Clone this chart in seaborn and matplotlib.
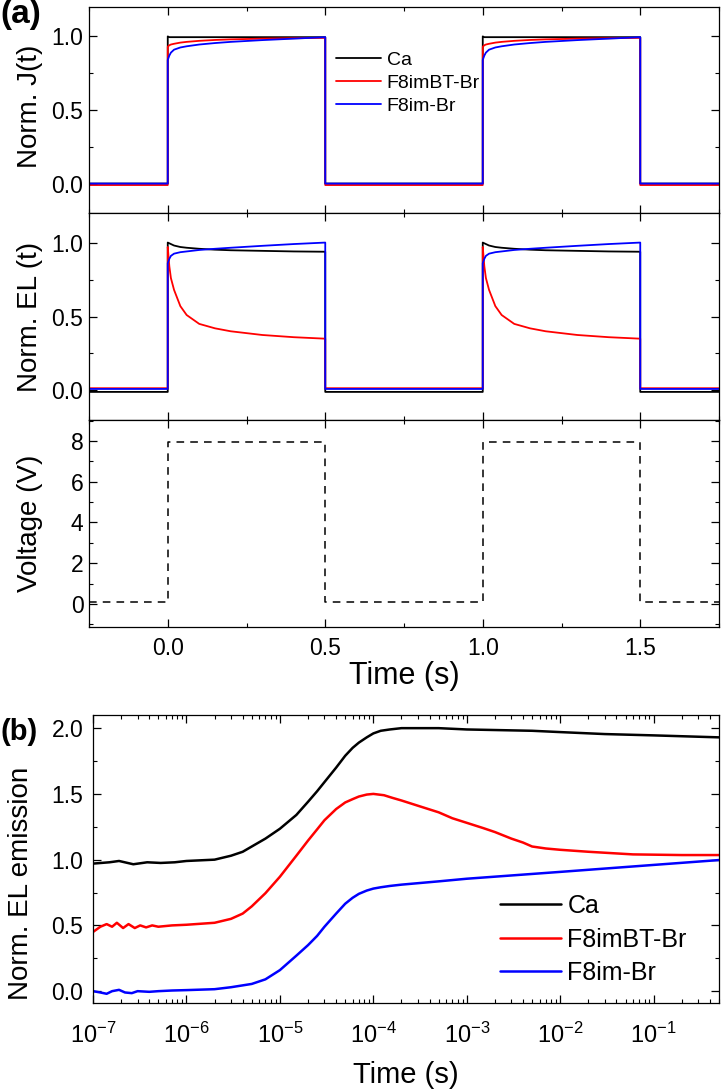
import matplotlib
matplotlib.use("Agg")
import matplotlib.pyplot as plt
import seaborn as sns
import pandas as pd
from matplotlib.ticker import MultipleLocator, FixedLocator, LogFormatterSciNotation, NullFormatter

# ---------------- data ----------------
series = ["Ca", "F8imBT-Br", "F8im-Br"]
colors = ["#000000", "#ff0000", "#0000ff"]

# panel (a): pulsed operation, time in s
t_pulse = [-0.25, 0.0, 0.0, 0.005, 0.01, 0.02, 0.04, 0.06, 0.1, 0.15, 0.2, 0.3, 0.4, 0.5,
           0.5, 1.0, 1.0, 1.005, 1.01, 1.02, 1.04, 1.06, 1.1, 1.15, 1.2, 1.3, 1.4, 1.5,
           1.5, 1.75]

J_ca = [0.0, 0.0, 1.0, 0.995, 0.995, 0.995, 0.995, 0.995, 0.995, 0.995, 0.995, 0.995, 0.995, 0.995,
        0.0, 0.0, 1.0, 0.995, 0.995, 0.995, 0.995, 0.995, 0.995, 0.995, 0.995, 0.995, 0.995, 0.995,
        0.0, 0.0]
J_red = [-0.01, -0.01, 0.93, 0.94, 0.945, 0.95, 0.958, 0.963, 0.97, 0.976, 0.98, 0.985, 0.988, 0.99,
         -0.01, -0.01, 0.93, 0.94, 0.945, 0.95, 0.958, 0.963, 0.97, 0.976, 0.98, 0.985, 0.988, 0.99,
         -0.01, -0.01]
J_blue = [0.0, 0.0, 0.84, 0.87, 0.89, 0.91, 0.925, 0.933, 0.945, 0.955, 0.963, 0.975, 0.985, 0.995,
          0.0, 0.0, 0.84, 0.87, 0.89, 0.91, 0.925, 0.933, 0.945, 0.955, 0.963, 0.975, 0.985, 0.995,
          0.0, 0.0]

EL_ca = [-0.01, -0.01, 1.0, 0.995, 0.99, 0.98, 0.97, 0.965, 0.958, 0.952, 0.948, 0.944, 0.94, 0.938,
         -0.01, -0.01, 1.0, 0.995, 0.99, 0.98, 0.97, 0.965, 0.958, 0.952, 0.948, 0.944, 0.94, 0.938,
         -0.01, -0.01]
EL_red = [0.015, 0.015, 0.97, 0.84, 0.76, 0.68, 0.57, 0.51, 0.45, 0.42, 0.40, 0.375, 0.36, 0.35,
          0.015, 0.015, 0.97, 0.84, 0.76, 0.68, 0.57, 0.51, 0.45, 0.42, 0.40, 0.375, 0.36, 0.35,
          0.015, 0.015]
EL_blue = [0.01, 0.01, 0.86, 0.89, 0.91, 0.925, 0.935, 0.94, 0.95, 0.958, 0.965, 0.978, 0.99, 1.0,
           0.01, 0.01, 0.86, 0.89, 0.91, 0.925, 0.935, 0.94, 0.95, 0.958, 0.965, 0.978, 0.99, 1.0,
           0.01, 0.01]

t_volt = [-0.25, 0.0, 0.0, 0.5, 0.5, 1.0, 1.0, 1.5, 1.5, 1.75]
volt = [0.1, 0.1, 7.95, 7.95, 0.1, 0.1, 7.95, 7.95, 0.1, 0.1]

# panel (b): transient EL on log time axis
log_ticks = [1e-7, 1e-6, 1e-5, 1e-4, 1e-3, 1e-2, 1e-1]

t_ca = [1e-7, 1.5e-7, 1.9e-7, 2.7e-7, 3.8e-7, 5.3e-7, 7.5e-7, 1e-6, 2e-6, 3e-6, 4e-6, 5e-6, 7e-6,
        1e-5, 1.5e-5, 2e-5, 2.5e-5, 3e-5, 4e-5, 5e-5, 6e-5, 7e-5, 8.5e-5, 1e-4, 1.2e-4, 1.5e-4,
        2e-4, 3e-4, 5e-4, 1e-3, 5e-3, 1e-2, 3e-2, 0.1, 0.5]
el_ca = [0.97, 0.98, 0.99, 0.965, 0.98, 0.975, 0.98, 0.99, 1.0, 1.03, 1.06, 1.10, 1.16,
         1.235, 1.34, 1.44, 1.52, 1.59, 1.70, 1.79, 1.85, 1.89, 1.93, 1.96, 1.98, 1.99,
         2.0, 2.0, 2.0, 1.99, 1.98, 1.97, 1.955, 1.945, 1.93]

t_red = [1e-7, 1.2e-7, 1.4e-7, 1.6e-7, 1.8e-7, 2.1e-7, 2.4e-7, 2.8e-7, 3.2e-7, 3.7e-7, 4.3e-7,
         5e-7, 7e-7, 1e-6, 2e-6, 3e-6, 4e-6, 5e-6, 7e-6, 1e-5, 1.5e-5, 2e-5, 2.5e-5, 3e-5, 4e-5,
         5e-5, 6e-5, 7e-5, 8.5e-5, 1e-4, 1.3e-4, 1.6e-4, 2e-4, 3e-4, 5e-4, 7e-4, 1e-3, 1.5e-3,
         2e-3, 3e-3, 4e-3, 5e-3, 7e-3, 1e-2, 2e-2, 6e-2, 0.2, 0.5]
el_red = [0.45, 0.49, 0.51, 0.49, 0.52, 0.48, 0.51, 0.48, 0.50, 0.485, 0.50,
          0.49, 0.50, 0.505, 0.52, 0.55, 0.59, 0.645, 0.745, 0.87, 1.03, 1.145, 1.23, 1.30, 1.385,
          1.435, 1.46, 1.48, 1.495, 1.50, 1.49, 1.47, 1.45, 1.41, 1.36, 1.315, 1.28, 1.24,
          1.21, 1.16, 1.13, 1.10, 1.085, 1.075, 1.06, 1.04, 1.035, 1.035]

t_blue = [1e-7, 1.2e-7, 1.4e-7, 1.6e-7, 1.9e-7, 2.2e-7, 2.6e-7, 3e-7, 4e-7, 5e-7, 7e-7, 1e-6,
          2e-6, 3e-6, 5e-6, 7e-6, 1e-5, 1.5e-5, 2e-5, 2.5e-5, 3e-5, 4e-5, 5e-5, 6e-5, 7e-5,
          8.5e-5, 1e-4, 1.2e-4, 1.5e-4, 2e-4, 5e-4, 1e-3, 1e-2, 0.1, 0.5]
el_blue = [0.0, -0.01, -0.02, 0.0, 0.01, -0.01, -0.015, 0.0, -0.005, 0.0, 0.005, 0.008,
           0.015, 0.03, 0.055, 0.09, 0.16, 0.27, 0.35, 0.42, 0.49, 0.59, 0.665, 0.71, 0.74,
           0.765, 0.78, 0.79, 0.80, 0.81, 0.835, 0.855, 0.907, 0.96, 0.997]

# ---------------- style ----------------
sns.set_theme(style="ticks")
plt.rcParams.update({
    "font.family": ["Liberation Sans", "DejaVu Sans"],
    "mathtext.fontset": "custom",
    "mathtext.rm": "Liberation Sans",
    "mathtext.it": "Liberation Sans:italic",
    "mathtext.bf": "Liberation Sans:bold",
    "mathtext.default": "regular",
    "xtick.direction": "in", "ytick.direction": "in",
    "xtick.top": True, "ytick.right": True,
    "xtick.major.size": 6, "ytick.major.size": 6,
    "xtick.minor.size": 3, "ytick.minor.size": 3,
    "xtick.major.width": 0.9, "ytick.major.width": 0.9,
    "xtick.minor.width": 0.8, "ytick.minor.width": 0.8,
    "axes.linewidth": 0.9,
    "axes.edgecolor": "black",
    "xtick.color": "black", "ytick.color": "black",
    "text.color": "black", "axes.labelcolor": "black",
})

W, H = 722, 1091
fig = plt.figure(figsize=(W / 100, H / 100), dpi=100)

def ax_px(left, top, right, bottom):
    return fig.add_axes([left / W, 1 - bottom / H, (right - left) / W, (bottom - top) / H])

ax1 = ax_px(89, 7, 719, 213)
ax2 = ax_px(89, 213, 719, 420)
ax3 = ax_px(89, 420, 719, 627)
axb = ax_px(93, 715, 719, 1003)

TICK = 16.5
YLAB = 20
XLAB = 22
lw_a = 1.3

def line(ax, x, y, color, label=None, lw=1.3, ls="-"):
    df = pd.DataFrame({"x": x, "y": y})
    sns.lineplot(data=df, x="x", y="y", ax=ax, color=color, estimator=None, sort=False,
                 linewidth=lw, linestyle=ls, label=label, legend=False)

for ys, c, s in zip([J_ca, J_red, J_blue], colors, series):
    line(ax1, t_pulse, ys, c, label=s, lw=lw_a)
for ys, c in zip([EL_ca, EL_red, EL_blue], colors):
    line(ax2, t_pulse, ys, c, lw=lw_a)
line(ax3, t_volt, volt, "black", lw=1.1, ls=(0, (5, 4)))

for ax in (ax1, ax2, ax3):
    ax.set_xlim(-0.25, 1.75)
    ax.xaxis.set_major_locator(MultipleLocator(0.5))
    ax.xaxis.set_minor_locator(MultipleLocator(0.25))
    ax.tick_params(axis="both", which="major", labelsize=TICK, pad=4)
    ax.set_xlabel("")
for ax in (ax1, ax2):
    ax.set_ylim(-0.2, 1.2)
    ax.yaxis.set_major_locator(MultipleLocator(0.5))
    ax.yaxis.set_minor_locator(MultipleLocator(0.25))
    ax.tick_params(axis="x", labelbottom=False)
ax3.set_ylim(-1.13, 9.03)
ax3.yaxis.set_major_locator(MultipleLocator(2))
ax3.yaxis.set_minor_locator(MultipleLocator(1))
ax3.tick_params(axis="x", pad=7)

ax1.set_ylabel("Norm. J(t)", fontsize=YLAB)
ax2.set_ylabel("Norm. EL (t)", fontsize=YLAB)
ax3.set_ylabel("Voltage (V)", fontsize=YLAB)
ax1.yaxis.set_label_coords(-0.073, 0.52)
ax2.yaxis.set_label_coords(-0.073, 0.5)
ax3.yaxis.set_label_coords(-0.073, 0.5)
ax3.set_xlabel("Time (s)", fontsize=XLAB)
ax3.xaxis.set_label_coords(0.5, -0.163)

ax1.legend(loc="upper left", bbox_to_anchor=(0.392, 0.785), frameon=False, fontsize=14,
           handlelength=2.3, handletextpad=0.3, labelspacing=0.28, borderpad=0, borderaxespad=0)

# panel (b)
for x, y, c, s in zip([t_ca, t_red, t_blue], [el_ca, el_red, el_blue], colors, series):
    line(axb, x, y, c, label=s, lw=1.8)
axb.set_xscale("log")
axb.set_xlim(1e-7, 0.5)
axb.set_ylim(-0.09, 2.1)
axb.yaxis.set_major_locator(MultipleLocator(0.5))
axb.yaxis.set_minor_locator(MultipleLocator(0.25))
axb.xaxis.set_major_locator(FixedLocator(log_ticks))
axb.xaxis.set_major_formatter(LogFormatterSciNotation())
minor = [m * d for d in log_ticks for m in range(2, 10) if m * d <= 0.5]
axb.xaxis.set_minor_locator(FixedLocator(minor))
axb.xaxis.set_minor_formatter(NullFormatter())
axb.tick_params(axis="both", which="major", labelsize=TICK, pad=7)
axb.tick_params(axis="x", which="major", labelsize=17, pad=14)
axb.set_ylabel("Norm. EL emission", fontsize=YLAB)
axb.yaxis.set_label_coords(-0.094, 0.417)
axb.set_xlabel("Time (s)", fontsize=21)
axb.xaxis.set_label_coords(0.5, -0.2)
axb.legend(loc="upper left", bbox_to_anchor=(0.65, 0.378), frameon=False, fontsize=18,
           handlelength=2.45, handletextpad=0.25, labelspacing=0.38, borderpad=0, borderaxespad=0)

fig.text(0.0, 1 + 1 / H, "(a)", fontsize=24, fontweight="bold", ha="left", va="top")
fig.text(0.0, 1 - 732 / H, "(b)", fontsize=21, fontweight="bold", ha="left", va="center")

fig.savefig("out.png", dpi=100)
